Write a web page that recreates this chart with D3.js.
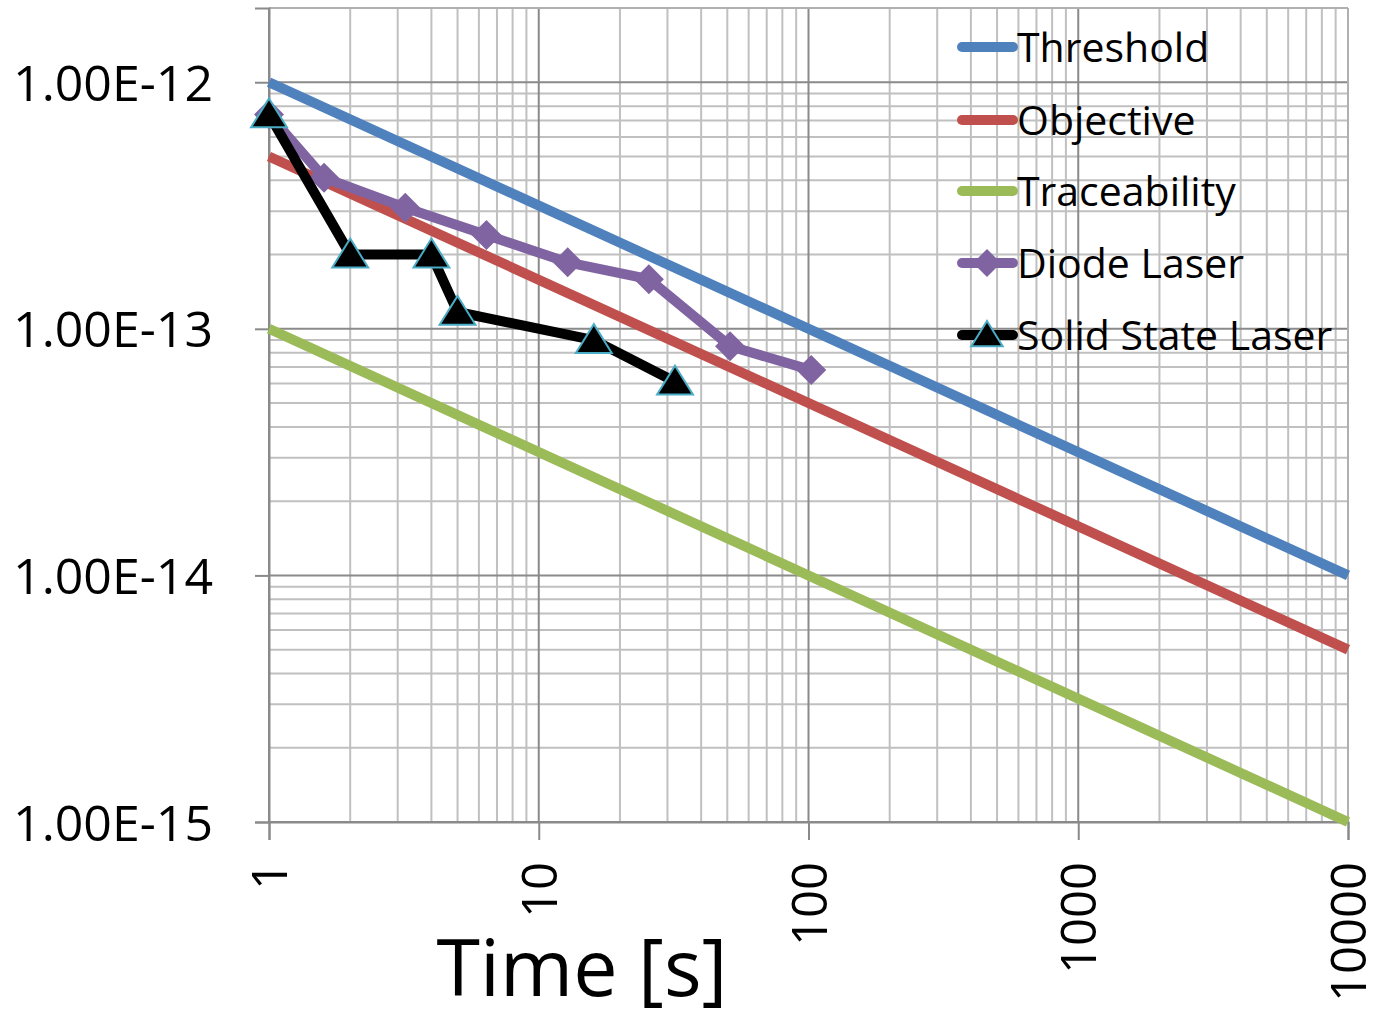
<!DOCTYPE html>
<html>
<head>
<meta charset="utf-8">
<script src="https://cdn.jsdelivr.net/npm/d3@7"></script>
<style>
  html, body { margin: 0; padding: 0; background: #fff; }
  svg { display: block; }
  text { font-family: "Open Sans", "Liberation Sans", sans-serif; fill: #000; }
</style>
</head>
<body>
<svg id="chart" width="1373" height="1016"></svg>
<script>
// ---- Data ----
const seriesNames = ["Threshold", "Objective", "Traceability", "Diode Laser", "Solid State Laser"];
const seriesColors = ["#4F81BD", "#C0504D", "#9BBB59", "#8064A2", "#000000"];

const thresholdT = [1, 10000];
const thresholdV = [1e-12, 1e-14];
const objectiveT = [1, 10000];
const objectiveV = [5e-13, 5e-15];
const traceT = [1, 10000];
const traceV = [1e-13, 1e-15];
const diodeT = [1, 1.6, 3.2, 6.4, 12.8, 25.6, 51.2, 102.4];
const diodeV = [7.4e-13, 4.1e-13, 3.1e-13, 2.4e-13, 1.86e-13, 1.59e-13, 8.5e-14, 6.8e-14];
const solidT = [1, 2, 4, 5, 16, 32];
const solidV = [7.4e-13, 2.0e-13, 2.0e-13, 1.17e-13, 9.0e-14, 6.1e-14];

const xTickValues = [1, 10, 100, 1000, 10000];
const xTickLabels = ["1", "10", "100", "1000", "10000"];
const yTickValues = [1e-15, 1e-14, 1e-13, 1e-12];
const yTickLabels = ["1.00E-15", "1.00E-14", "1.00E-13", "1.00E-12"];
const xTitle = "Time [s]";

// ---- Layout ----
const svg = d3.select("#chart");
const L = 269, R = 1348, T = 8, B = 822;

const x = d3.scaleLog().domain([1, 10000]).range([L, R]);
const y = d3.scaleLog().domain([1e-15, 2e-12]).range([B, T]);

// ---- Grid ----
const grid = svg.append("g");
const isMajor = v => Math.abs(Math.log10(v) - Math.round(Math.log10(v))) < 1e-9;

grid.selectAll("line.vx").data(x.ticks().filter(v => !isMajor(v)))
  .join("line").attr("x1", d => x(d)).attr("x2", d => x(d)).attr("y1", T).attr("y2", B)
  .attr("stroke", "#c0c0c0").attr("stroke-width", 2);
grid.selectAll("line.hy").data(y.ticks().filter(v => !isMajor(v)))
  .join("line").attr("y1", d => y(d)).attr("y2", d => y(d)).attr("x1", L).attr("x2", R)
  .attr("stroke", "#c0c0c0").attr("stroke-width", 2);
grid.selectAll("line.vxm").data(xTickValues)
  .join("line").attr("x1", d => x(d)).attr("x2", d => x(d)).attr("y1", T).attr("y2", B)
  .attr("stroke", "#8a8a8a").attr("stroke-width", 2);
grid.selectAll("line.hym").data(yTickValues)
  .join("line").attr("y1", d => y(d)).attr("y2", d => y(d)).attr("x1", L).attr("x2", R)
  .attr("stroke", "#8a8a8a").attr("stroke-width", 2);
// border top/right
grid.append("line").attr("x1", L).attr("x2", R).attr("y1", T).attr("y2", T).attr("stroke", "#b0b0b0").attr("stroke-width", 2);
grid.append("line").attr("x1", R).attr("x2", R).attr("y1", T).attr("y2", B).attr("stroke", "#b0b0b0").attr("stroke-width", 2);

// ---- Axes ----
const yAxis = d3.axisLeft(y).tickValues(yTickValues)
  .tickFormat((d, i) => yTickLabels[i]).tickSize(14).tickPadding(42);
const gy = svg.append("g").attr("transform", `translate(${L},0)`).call(yAxis);
gy.select(".domain").attr("stroke", "#8a8a8a").attr("stroke-width", 2);
gy.selectAll(".tick line").attr("stroke", "#8a8a8a").attr("stroke-width", 2);
gy.selectAll(".tick text").style("font-size", "50px").style("font-family", "'Open Sans', sans-serif")
  .attr("fill", "#000").attr("dy", "0.36em");

const xAxis = d3.axisBottom(x).tickValues(xTickValues)
  .tickFormat((d, i) => xTickLabels[i]).tickSize(18).tickPadding(0);
const gx = svg.append("g").attr("transform", `translate(0,${B})`).call(xAxis);
gx.select(".domain").attr("stroke", "#8a8a8a").attr("stroke-width", 2);
gx.selectAll(".tick line").attr("stroke", "#8a8a8a").attr("stroke-width", 2);
gx.selectAll(".tick text").style("font-size", "49px").style("font-family", "'Open Sans', sans-serif")
  .attr("fill", "#000")
  .attr("text-anchor", "end")
  .attr("y", 0).attr("dy", "0.36em")
  .attr("transform", "translate(0,40) rotate(-90)");

svg.append("text").attr("x", 582).attr("y", 996).attr("text-anchor", "middle")
  .style("font-size", "79px").text(xTitle);

// ---- Series ----
const line = d3.line().x(d => x(d[0])).y(d => y(d[1]));
const zip = (a, b) => a.map((v, i) => [v, b[i]]);
const plot = svg.append("g");

const lineData = [zip(thresholdT, thresholdV), zip(objectiveT, objectiveV), zip(traceT, traceV),
                  zip(diodeT, diodeV), zip(solidT, solidV)];

const diamond = s => `M0,${-s}L${s},0L0,${s}L${-s},0Z`;
const triangle = s => `M0,${-s}L${s * 1.12},${s * 0.8}L${-s * 1.12},${s * 0.8}Z`;

lineData.forEach((data, i) => {
  plot.append("path").datum(data).attr("d", line)
    .attr("fill", "none").attr("stroke", seriesColors[i])
    .attr("stroke-width", 10)
    .attr("stroke-linejoin", "round").attr("stroke-linecap", "butt");
  if (i === 3) {
    plot.selectAll("path.dm").data(data).join("path")
      .attr("transform", d => `translate(${x(d[0])},${y(d[1])})`)
      .attr("d", diamond(15)).attr("fill", seriesColors[3]);
  }
  if (i === 4) {
    plot.selectAll("path.tr").data(data).join("path")
      .attr("transform", d => `translate(${x(d[0])},${y(d[1])})`)
      .attr("d", triangle(16)).attr("fill", "#000")
      .attr("stroke", "#4BACC6").attr("stroke-width", 2).attr("stroke-linejoin", "miter");
  }
});

// ---- Legend ----
const legY = [47, 120, 191, 263, 335];
const leg = svg.append("g");
seriesNames.forEach((name, i) => {
  const g = leg.append("g").attr("transform", `translate(0,${legY[i]})`);
  g.append("line").attr("x1", 962).attr("x2", 1013).attr("y1", 0).attr("y2", 0)
    .attr("stroke", seriesColors[i]).attr("stroke-width", 10).attr("stroke-linecap", "round");
  if (i === 3) g.append("path").attr("transform", "translate(987,0)").attr("d", diamond(14)).attr("fill", seriesColors[3]);
  if (i === 4) g.append("path").attr("transform", "translate(987,0)").attr("d", triangle(14))
    .attr("fill", "#000").attr("stroke", "#4BACC6").attr("stroke-width", 2);
  g.append("text").attr("x", 1017).attr("y", 0).attr("dy", "0.36em")
    .style("font-size", "41px").text(name);
});
</script>
</body>
</html>
